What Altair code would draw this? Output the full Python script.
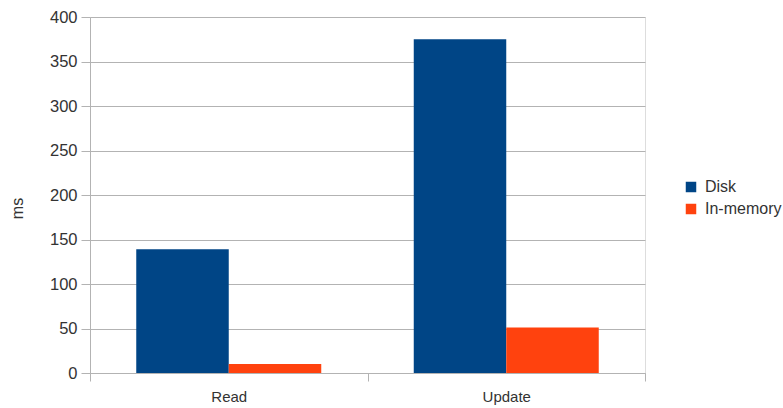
import altair as alt
import pandas as pd

categories = ["Read", "Update"]
series = ["Disk", "In-memory"]
disk = [139, 375]
in_memory = [10, 51]

rows = []
for i, c in enumerate(categories):
    rows.append({"op": c, "type": "Disk", "ms": disk[i]})
    rows.append({"op": c, "type": "In-memory", "ms": in_memory[i]})
df = pd.DataFrame(rows)

FONT = "Liberation Sans"
GRID = "#b3b3b3"
TXT = "#333333"

chart = alt.Chart(df).mark_bar().encode(
    x=alt.X("op:N", sort=categories,
            scale=alt.Scale(paddingInner=0, paddingOuter=0),
            axis=alt.Axis(title=None, labelAngle=0, tickBand="extent", grid=False,
                          domainColor=GRID, tickColor=GRID, tickSize=8,
                          labelFont=FONT, labelFontSize=15, labelColor=TXT,
                          labelPadding=8)),
    xOffset=alt.XOffset("type:N", sort=series,
                        scale=alt.Scale(paddingInner=0, paddingOuter=0.5)),
    y=alt.Y("ms:Q", scale=alt.Scale(domain=[0, 400], nice=False),
            axis=alt.Axis(title="ms", values=list(range(0, 401, 50)),
                          gridColor=GRID, domainColor=GRID, tickColor=GRID, tickSize=9,
                          labelFont=FONT, labelFontSize=16.5, labelColor=TXT,
                          labelPadding=4,
                          titleFont=FONT, titleFontSize=16, titleFontWeight="normal",
                          titleColor=TXT, titleX=-73, titleY=191,
                          titleBaseline="middle", titleAngle=270)),
    color=alt.Color("type:N", sort=series,
                    scale=alt.Scale(domain=series, range=["#004586", "#ff420e"]),
                    legend=alt.Legend(title=None, orient="none", legendX=593, legendY=162,
                                      symbolType="square", symbolSize=110,
                                      symbolStrokeWidth=0, labelFont=FONT,
                                      labelFontSize=16, labelColor=TXT,
                                      rowPadding=6, labelOffset=6)),
).properties(
    width=555, height=356,
    autosize=alt.AutoSizeParams(type="none"),
    padding={"left": 90, "top": 17, "right": 138, "bottom": 35},
).configure_view(stroke=GRID).configure(background="white")

chart.save("out.html", embed_options={"renderer": "svg", "actions": False})
